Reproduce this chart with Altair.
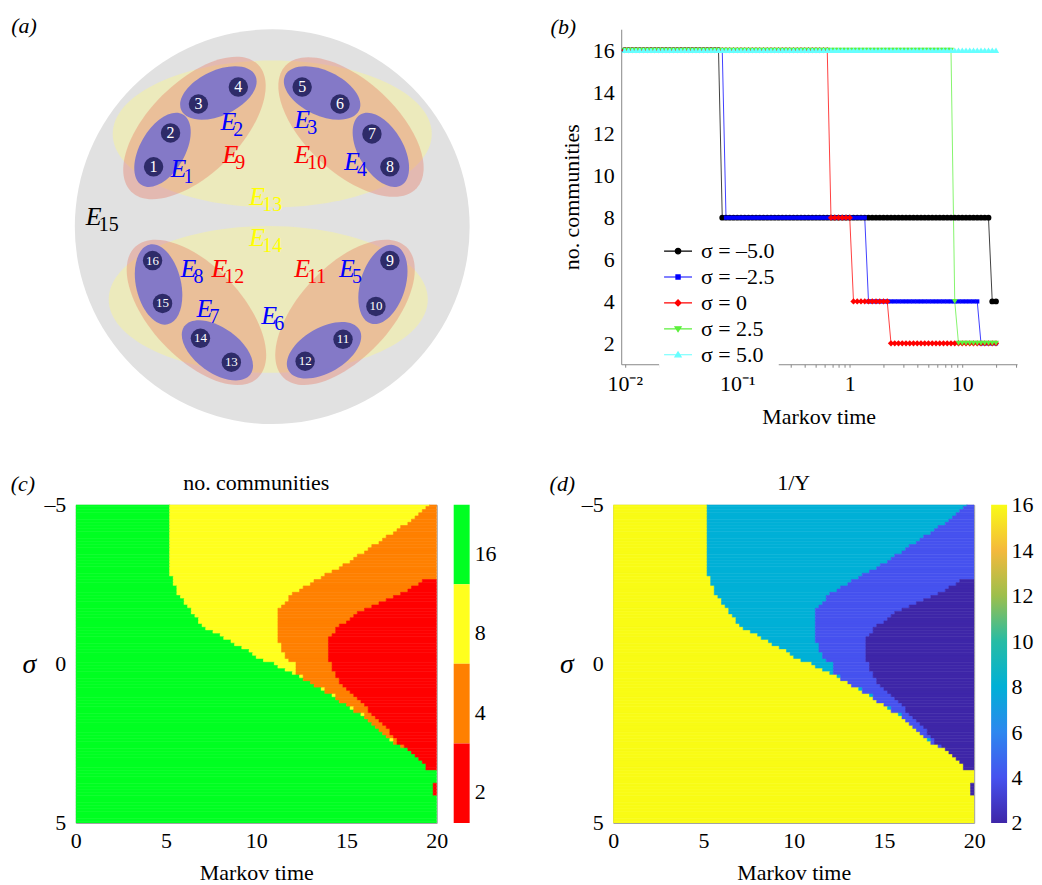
import altair as alt
import numpy as np
import pandas as pd

alt.data_transformers.disable_max_rows()
FONT = "Liberation Serif"

# ============================ DATA ============================
# (a) hypergraph layout, in diagram units (1 unit = 1 px of the panel)
node_id = list(range(1, 17))
node_x = [78, 95, 123, 163, 227, 265, 297, 315, 315, 301, 268, 230, 156, 125, 87, 77]
node_y = [138, 104, 75, 58, 58, 75, 105, 138, 232, 278, 311, 333, 334, 310, 275, 232]

pair_x = [87, 143, 247, 306, 308, 249, 142, 83]
pair_y = [121, 64, 64, 121, 256, 322, 322, 256]
pair_angle = [120, 155, 25, 60, 107, 150, 36, 77]
pair_semi = [41, 41, 41, 41, 41, 41, 41, 41]

cluster_x = [119, 276, 270, 121]
cluster_y = [99, 98, 284, 284]
cluster_angle = [135, 43, 133, 47]
cluster_semi = [90, 90, 90, 90]

half_x = [197, 193]
half_y = [105, 271]
half_semi = [160, 160]

all_x = [197]
all_y = [198]
all_semi = [198]

edge_num = [str(i) for i in range(1, 16)]
edge_x = [103, 153, 227, 277, 272, 194, 129, 113, 155, 227, 227, 144, 182, 182, 18]
edge_y = [140, 93, 91, 133, 241, 288, 281, 241, 126, 126, 241, 241, 168, 209, 188]
edge_kind = ["pair"] * 8 + ["cluster"] * 4 + ["half"] * 2 + ["all"]

# (c)/(d) boundaries per sigma row (sigma = -5, -4.9, ..., 5):
# Markov-time index where the partition goes 16->8 (T1), 8->4 (T2), 4->2 (T3)
T1 = ([5.2] * 23 +
      [5.4, 5.4, 5.4, 5.6, 5.6, 5.6, 5.8, 6.0, 6.0, 6.2, 6.4, 6.4, 6.6, 6.8, 6.8, 7.0, 7.2, 7.6,
       8.0, 8.2, 8.6, 8.8, 9.2, 9.6, 9.8, 10.0, 10.4, 11.0, 11.2, 11.6, 12.0, 12.4, 12.6, 13.0,
       13.2, 13.6, 13.8, 14.2, 14.4, 14.6, 15.0, 15.2, 15.4, 15.8, 16.0, 16.2, 16.4, 16.6, 16.8,
       17.0, 17.2, 17.4, 17.6, 18.0, 18.4, 18.6, 18.8, 19.0, 19.2, 19.4, 19.4] +
      [20] * 4 + [19.8] * 4 + [20] * 9)
T2 = ([19.6, 19.4, 19.2, 19.0, 18.8, 18.6, 18.4, 18.0, 17.8, 17.6, 17.2, 17.0, 16.8, 16.4, 16.2,
       16.0, 15.6, 15.4, 15.2, 14.8, 14.6, 14.2, 13.8, 13.6, 13.2, 13.0, 12.6, 12.4, 12.0, 11.8,
       11.8, 11.6, 11.4, 11.2] +
      [11.2] * 10 +
      [11.4, 11.4, 11.4, 11.6, 11.6, 11.8, 12.2, 12.2, 12.2, 12.2, 12.6, 12.6, 13.0, 13.2, 13.8,
       13.8, 14.4, 14.4, 14.6, 15.0, 15.4, 15.4, 16.0, 16.0, 16.2, 16.4, 16.6, 16.8, 17.0, 17.2,
       17.6, 17.6, 18.0, 18.4, 18.6, 18.8, 19.0, 19.2, 19.4, 19.4] +
      [20] * 4 + [19.8] * 4 + [20] * 9)
T3 = ([20] * 24 +
      [19.2, 19.0, 18.6, 18.4, 18.0, 17.6, 17.2, 16.8, 16.4, 16.0, 15.6, 15.4, 15.2, 15.0, 14.6,
       14.4, 14.4, 14.2] +
      [14.0] * 8 +
      [14.2, 14.2, 14.2, 14.4, 14.4, 14.6, 14.6, 14.8, 15.0, 15.2, 15.4, 15.6, 15.8, 16.0, 16.2,
       16.2, 16.4, 16.6, 16.8, 17.0, 17.2, 17.4, 17.4, 17.6, 17.8, 17.8, 18.2, 18.4, 18.6, 18.8,
       19.0, 19.2, 19.4, 19.4] +
      [20] * 4 + [19.8] * 4 + [20] * 9)
levels = [16, 8, 4, 2]

# (b) selected sigma rows and Markov-time sampling (log grid)
series_rows = [0, 25, 50, 75, 100]
series_labels = ["σ = –5.0", "σ = –2.5", "σ = 0", "σ = 2.5", "σ = 5.0"]
series_colors = ["#000000", "#0000ff", "#ff0000", "#5cf03c", "#66ffff"]
series_shapes = ["circle", "square", "diamond", "triangle-down", "triangle-up"]
series_sizes = [34, 18, 40, 34, 40]
markov_time = 10 ** (-2 + 3.3 * np.arange(100) / 99)

b_xticks = [0.01, 0.02, 0.03, 0.04, 0.05, 0.06, 0.07, 0.08, 0.09, 0.1, 0.2, 0.3, 0.4, 0.5, 0.6,
            0.7, 0.8, 0.9, 1, 2, 3, 4, 5, 6, 7, 8, 9, 10, 20, 30]

color_c = ["#ff0000", "#ff8000", "#ffff1e", "#00ff22"]          # for 2, 4, 8, 16
parula_dom = [2, 4, 6, 8, 10, 12, 14, 16]
parula_rng = ["#3e26a8", "#4652ef", "#2d87ef", "#00b0d6", "#27bca4", "#9dbf4c", "#f4b93c", "#f9fb15"]

# ============================ TABLES ============================
rect_rows = []
for r in range(101):
    s = -5 + 0.1 * r
    edges = [0, T1[r], T2[r], T3[r], 20]
    for j, lev in enumerate(levels):
        lo, hi = edges[j], edges[j + 1]
        if hi > lo + 1e-9:
            rect_rows.append(dict(x0=lo, x1=hi, y0=s - 0.05, y1=s + 0.05, level=lev))
df_rect = pd.DataFrame(rect_rows)

b_rows = []
for lab, r in zip(series_labels, series_rows):
    c1, c2, c3 = round(T1[r] * 5), round(T2[r] * 5), round(T3[r] * 5)
    for k, t in enumerate(markov_time):
        lev = 16 if k < c1 else 8 if k < c2 else 4 if k < c3 else 2
        b_rows.append(dict(series=lab, k=k, t=float(t), level=lev))
df_b = pd.DataFrame(b_rows)

# ============================ PANEL (a) ============================
def epath(ratio):
    return f"M-1,0A1,{ratio},0,1,0,1,0A1,{ratio},0,1,0,-1,0Z"

xa = alt.Scale(domain=[0, 397], nice=False, zero=False)
ya = alt.Scale(domain=[0, 396], nice=False, zero=False, reverse=True)
XA = alt.X("cx:Q", scale=xa, axis=None)
YA = alt.Y("cy:Q", scale=ya, axis=None)


def ellipse_layer(xs, ys, semi, angle, shape, color, opacity):
    df = pd.DataFrame(dict(cx=xs, cy=ys, semi=semi, ang=angle))
    return alt.Chart(df).transform_calculate(area="pow(2*datum.semi, 2)").mark_point(
        shape=shape, filled=True, color=color, opacity=opacity, strokeWidth=0
    ).encode(x=XA, y=YA, size=alt.Size("area:Q", scale=None), angle=alt.Angle("ang:Q", scale=None))


lay_all = ellipse_layer(all_x, all_y, all_semi, [0], "circle", "#e1e1e1", 1)
lay_half = ellipse_layer(half_x, half_y, half_semi, [0, 0], epath(0.46), "#f6f29e", 0.55)
lay_cluster = ellipse_layer(cluster_x, cluster_y, cluster_semi, cluster_angle, epath(0.51), "#e8705a", 0.35)
lay_pair = ellipse_layer(pair_x, pair_y, pair_semi, pair_angle, epath(0.55), "#8077c8", 0.97)

df_nodes = pd.DataFrame(dict(cx=node_x, cy=node_y, id=node_id))
lay_nodes = alt.Chart(df_nodes).mark_point(shape="circle", filled=True, color="#2e2b69", size=380, opacity=1).encode(x=XA, y=YA)
lay_node_txt = alt.Chart(df_nodes).transform_calculate(fs="datum.id < 10 ? 16 : 13").mark_text(
    color="white", font=FONT, align="center", baseline="middle"
).encode(x=XA, y=YA, text="id:N", size=alt.Size("fs:Q", scale=None))

df_edges = pd.DataFrame(dict(cx=edge_x, cy=edge_y, num=edge_num, kind=edge_kind))
edge_color = alt.Color("kind:N", scale=alt.Scale(domain=["pair", "cluster", "half", "all"],
                                                 range=["#0000ff", "#ff0000", "#ffff00", "#000000"]), legend=None)
lay_E = alt.Chart(df_edges).mark_text(font=FONT, fontStyle="italic", fontSize=26, align="center", baseline="middle").encode(
    x=XA, y=YA, text=alt.value("E"), color=edge_color)
lay_sub = alt.Chart(df_edges).mark_text(font=FONT, fontSize=20, align="left", baseline="middle", dx=5, dy=8).encode(
    x=XA, y=YA, text="num:N", color=edge_color)


def panel_label(txt, dx, dy, style="italic"):
    return alt.Chart(pd.DataFrame(dict(lab=[txt]))).mark_text(
        font=FONT, fontSize=22, fontStyle=style, align="center", baseline="middle", color="black"
    ).encode(text="lab:N", x=alt.value(dx), y=alt.value(dy))


panel_a = alt.layer(lay_all, lay_half, lay_cluster, lay_pair, lay_nodes, lay_node_txt, lay_E, lay_sub,
                    panel_label("(a)", -52, -3)).properties(
    width=397, height=396, view=alt.ViewBackground(stroke="transparent"))

# ============================ PANEL (b) ============================
def ax(**kw):
    base = dict(labelFont=FONT, titleFont=FONT, labelFontSize=22, titleFontSize=22, titleFontWeight="normal",
                labelColor="black", titleColor="black", grid=False)
    base.update(kw)
    return alt.Axis(**base)


b_label_expr = ("datum.value == 0.01 ? '10⁻²' : datum.value == 0.1 ? '10⁻¹' : "
                "datum.value == 1 ? '1' : datum.value == 10 ? '10' : ''")
XB = alt.X("t:Q", scale=alt.Scale(type="log", domain=[0.0093, 30.7], nice=False),
           axis=ax(values=b_xticks, labelExpr=b_label_expr, title="Markov time", tickSize=3,
                   domainColor="#888", tickColor="#888", labelPadding=6, labelOverlap=False, labelFlush=False,
                   titleX=198, titleY=52, titleAlign="center", titleBaseline="middle"))
YB = alt.Y("level:Q", scale=alt.Scale(domain=[1, 17], nice=False, zero=False),
           axis=ax(values=[2, 4, 6, 8, 10, 12, 14, 16], ticks=False, domainColor="#888", labelPadding=7,
                   title="no. communities", titleAngle=270, titleX=-50, titleY=168,
                   titleAlign="center", titleBaseline="middle"))
color_b = alt.Scale(domain=series_labels, range=series_colors)

lay_lines = alt.Chart(df_b).mark_line(strokeWidth=1, opacity=0.75).encode(
    x=XB, y=YB, color=alt.Color("series:N", scale=color_b, legend=None), order="k:Q")
lay_pts = [
    alt.Chart(df_b).transform_filter(alt.datum.series == lab).mark_point(
        shape=shp, size=sz, filled=True, opacity=1).encode(
        x=XB, y=YB, color=alt.Color("series:N", scale=color_b, legend=None))
    for lab, shp, sz in zip(series_labels, series_shapes, series_sizes)
]

legend_paths = [
    "M-1,0L1,0M-0.2,0A0.2,0.2,0,1,0,0.2,0A0.2,0.2,0,1,0,-0.2,0Z",
    "M-1,0L1,0M-0.15,-0.15L0.15,-0.15L0.15,0.15L-0.15,0.15Z",
    "M-1,0L1,0M-0.22,0L0,-0.22L0.22,0L0,0.22Z",
    "M-1,0L1,0M-0.22,-0.15L0.22,-0.15L0,0.2Z",
    "M-1,0L1,0M-0.22,0.15L0.22,0.15L0,-0.2Z",
]
leg_b = alt.Legend(title=None, orient="none", legendX=585, legendY=203.5, fillColor="white", padding=4,
                   labelFont=FONT, labelFontSize=22, labelColor="black", symbolSize=784, symbolStrokeWidth=1.2,
                   rowPadding=-3, labelOffset=8, symbolOpacity=1, labelLimit=300, zindex=1)
df_leg = pd.DataFrame(dict(series=series_labels))
lay_legend = alt.Chart(df_leg).transform_filter("false").mark_point(filled=True).encode(
    shape=alt.Shape("series:N", scale=alt.Scale(domain=series_labels, range=legend_paths), legend=leg_b),
    fill=alt.Fill("series:N", scale=alt.Scale(domain=series_labels, range=series_colors), legend=leg_b),
    stroke=alt.Stroke("series:N", scale=alt.Scale(domain=series_labels, range=series_colors), legend=leg_b),
)

panel_b = alt.layer(lay_lines, *lay_pts, lay_legend, panel_label("(b)", -58, -2)).properties(
    width=397, height=336, view=alt.ViewBackground(stroke="transparent"))

# ============================ PANELS (c), (d) ============================
XC = alt.X("x0:Q", scale=alt.Scale(domain=[0, 20], nice=False, zero=False),
           axis=ax(values=[0, 5, 10, 15, 20], title="Markov time", domain=False, ticks=False, labelPadding=8,
                   labelFlush=False, titleX=181, titleY=50, titleAlign="center", titleBaseline="middle"))
YC = alt.Y("y0:Q", scale=alt.Scale(domain=[-5, 5], nice=False, zero=False, reverse=True),
           axis=ax(values=[-5, 0, 5], labelExpr="datum.value < 0 ? '–' + abs(datum.value) : datum.label",
                   title="σ", titleAngle=0, titleFontSize=28, titleFontStyle="italic", titleX=-47, titleY=160,
                   titleAlign="center", titleBaseline="middle", domain=False, ticks=False, labelPadding=10,
                   labelFlush=False))
scale_c = alt.Scale(domain=[2, 4, 8, 16], range=color_c)
scale_d = alt.Scale(domain=parula_dom, range=parula_rng)

heat_c = alt.Chart(df_rect).mark_rect(clip=True, strokeWidth=0.6).encode(
    x=XC, x2="x1:Q", y=YC, y2="y1:Q",
    color=alt.Color("level:O", scale=scale_c, legend=None),
    stroke=alt.Stroke("level:O", scale=scale_c, legend=None))
panel_c = alt.layer(heat_c, panel_label("(c)", -53, -21),
                    panel_label("no. communities", 181, -22, "normal")).properties(
    width=362, height=319, view=alt.ViewBackground(stroke="#999", strokeWidth=1))

heat_d = alt.Chart(df_rect).mark_rect(clip=True, strokeWidth=0.6).encode(
    x=XC, x2="x1:Q", y=YC, y2="y1:Q",
    color=alt.Color("level:Q", scale=scale_d, legend=None),
    stroke=alt.Stroke("level:Q", scale=scale_d, legend=None))
panel_d = alt.layer(heat_d, panel_label("(d)", -51, -21),
                    panel_label("1/Y", 181, -22, "normal")).properties(
    width=362, height=319, view=alt.ViewBackground(stroke="#999", strokeWidth=1))

# discrete colour bar for (c)
df_cbar = pd.DataFrame(dict(level=levels))
cb_x = alt.Scale(domain=[0, 143 / 16], nice=False, zero=False)
cb_y = alt.Y("level:O", sort="descending", scale=alt.Scale(paddingInner=0, paddingOuter=0), axis=None)
cbar_rect = alt.Chart(df_cbar).mark_rect().encode(
    x=alt.X(datum=0, scale=cb_x, axis=None), x2=alt.X2(datum=1), y=cb_y,
    color=alt.Color("level:O", scale=scale_c, legend=None))
cbar_txt = alt.Chart(df_cbar).mark_text(align="left", baseline="middle", dx=5, dy=9, font=FONT, fontSize=22,
                                        color="black").encode(
    x=alt.X(datum=1, scale=cb_x, axis=None), y=cb_y, text="level:N")
cbar_c = alt.layer(cbar_rect, cbar_txt).properties(width=143, height=319,
                                                   view=alt.ViewBackground(stroke="transparent"))

# continuous (parula) colour bar for (d)
grad = alt.LinearGradient(
    gradient="linear", x1=0, x2=0, y1=1, y2=0,
    stops=[alt.GradientStop(offset=(v - parula_dom[0]) / (parula_dom[-1] - parula_dom[0]), color=c)
           for v, c in zip(parula_dom, parula_rng)])
cbar_d = alt.Chart(pd.DataFrame(dict(a=[0]))).mark_rect(fill=grad).encode(
    y=alt.Y(datum=parula_dom[0], scale=alt.Scale(domain=[parula_dom[0], parula_dom[-1]], nice=False, zero=False),
            axis=ax(orient="right", values=parula_dom, title=None, domain=False, ticks=False, labelPadding=4,
                    labelFlush=False, labelOverlap=False)),
    y2=alt.Y2(datum=parula_dom[-1]),
).properties(width=16, height=319, view=alt.ViewBackground(stroke="transparent"))

# ============================ LAYOUT ============================
IND = dict(x="independent", y="independent", color="independent")
row1 = alt.hconcat(panel_a, panel_b, spacing=150, bounds="flush").resolve_scale(**IND)
row2 = alt.hconcat(panel_c, cbar_c, panel_d, cbar_d, spacing=17, bounds="flush").resolve_scale(**IND)
# nested flush rows report no height, so the spacing is the full top-to-top distance
chart = alt.vconcat(row1, row2, spacing=477, bounds="flush").resolve_scale(**IND).properties(
    padding={"left": 2, "top": 5, "right": 0, "bottom": 0}
).configure(background="white").configure_view(stroke="transparent")

chart.save("out.html", embed_options={"renderer": "svg", "actions": False})
